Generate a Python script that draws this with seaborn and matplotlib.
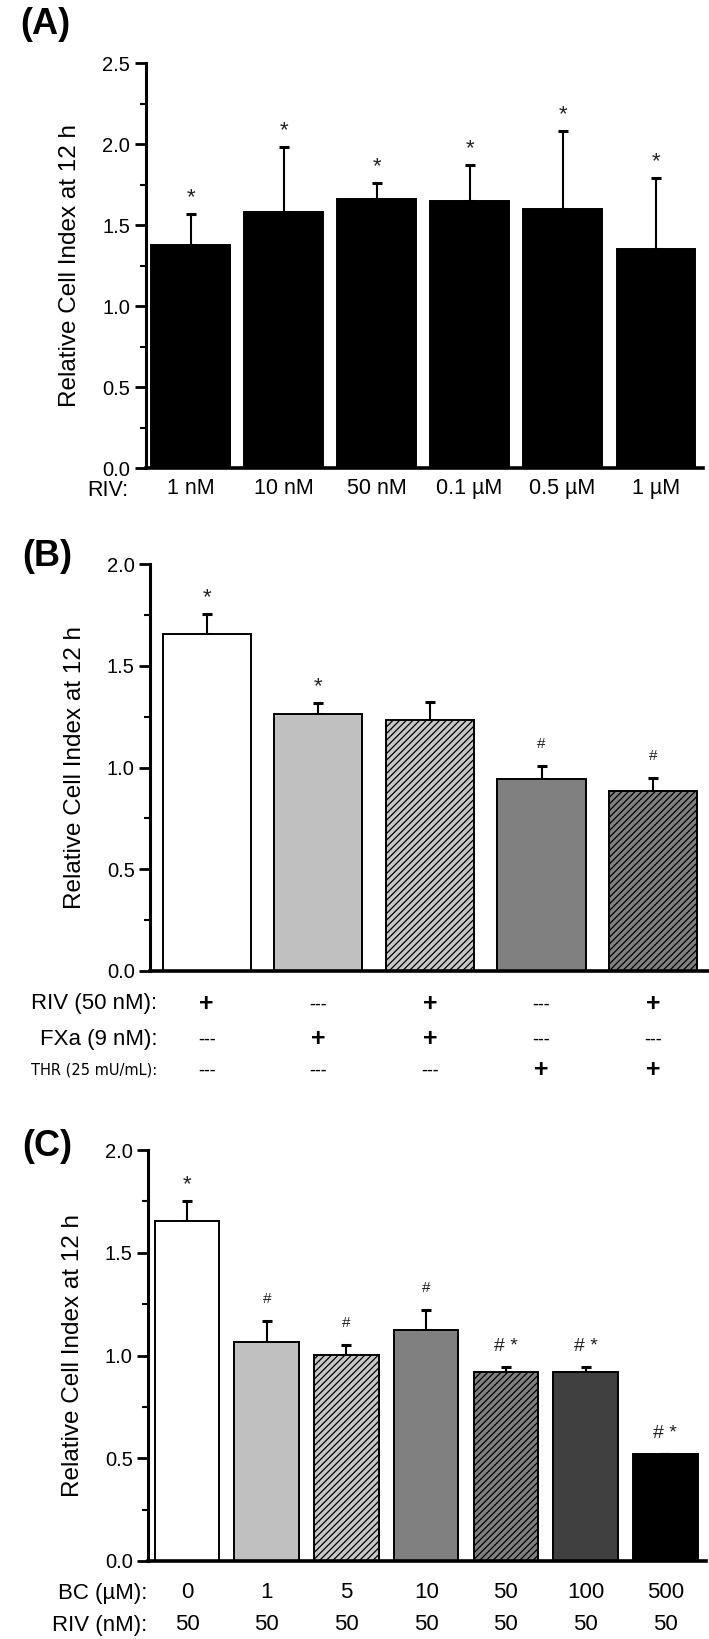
import numpy as np
import pandas as pd
import matplotlib
matplotlib.use("Agg")
import matplotlib.pyplot as plt
import seaborn as sns
from matplotlib.ticker import MultipleLocator, FormatStrFormatter
from matplotlib.transforms import blended_transform_factory

# ---------------- data ----------------
a_labels = ["1 nM", "10 nM", "50 nM", "0.1 µM", "0.5 µM", "1 µM"]
a_means = [1.38, 1.58, 1.66, 1.65, 1.60, 1.35]
a_errs = [0.19, 0.40, 0.10, 0.22, 0.48, 0.44]
a_marks = ["*", "*", "*", "*", "*", "*"]

b_groups = ["RIV", "FXa", "RIV+FXa", "THR", "RIV+THR"]
b_means = [1.655, 1.265, 1.232, 0.942, 0.886]
b_errs = [0.10, 0.05, 0.09, 0.067, 0.06]
b_marks = ["*", "*", "", "#", "#"]
b_riv = ["+", "---", "+", "---", "+"]
b_fxa = ["---", "+", "+", "---", "---"]
b_thr = ["---", "---", "---", "+", "+"]
b_row_labels = ["RIV (50 nM):", "FXa (9 nM):", "THR (25 mU/mL):"]

c_bc = ["0", "1", "5", "10", "50", "100", "500"]
c_riv = ["50", "50", "50", "50", "50", "50", "50"]
c_means = [1.653, 1.068, 1.001, 1.124, 0.918, 0.918, 0.520]
c_errs = [0.10, 0.10, 0.05, 0.095, 0.026, 0.026, 0.0]
c_marks = ["*", "#", "#", "#", "# *", "# *", "# *"]
c_row_labels = ["BC (µM):", "RIV (nM):"]

# ---------------- style ----------------
sns.set_style("ticks")
plt.rcParams["font.family"] = ["Liberation Sans", "DejaVu Sans"]
plt.rcParams["hatch.linewidth"] = 0.9
for k in ["axes.edgecolor", "text.color", "xtick.color", "ytick.color", "axes.labelcolor"]:
    plt.rcParams[k] = "black"

W, H = 709, 1639
fig = plt.figure(figsize=(W / 100, H / 100), dpi=100)


def fy(px):
    return 1 - px / H


def make_axes(left, right, top, bottom):
    return fig.add_axes([left / W, 1 - bottom / H, (right - left) / W, (bottom - top) / H])


def style_axis(ax, ymax):
    ax.set_ylim(0, ymax)
    ax.yaxis.set_major_locator(MultipleLocator(0.5))
    ax.yaxis.set_minor_locator(MultipleLocator(0.25))
    ax.yaxis.set_major_formatter(FormatStrFormatter("%.1f"))
    for s in ["top", "right"]:
        ax.spines[s].set_visible(False)
    ax.spines["left"].set_linewidth(2.2)
    ax.spines["bottom"].set_linewidth(2.6)
    ax.tick_params(axis="y", which="major", direction="out", length=8, width=2,
                   labelsize=14.5, pad=3)
    ax.tick_params(axis="y", which="minor", direction="out", length=4, width=1.5)
    ax.tick_params(axis="x", length=0)
    ax.set_ylabel("Relative Cell Index at 12 h", fontsize=17.5)
    ax.yaxis.set_label_coords(-0.115, 0.5)
    ax.set_xlabel("")


def draw_bars(ax, labels, means, errs, colors, hatches, width):
    df = pd.DataFrame({"grp": labels, "val": means})
    sns.barplot(data=df, x="grp", y="val", hue="grp", palette=colors, legend=False,
                errorbar=None, width=width, ax=ax, edgecolor="black", linewidth=1.4,
                saturation=1, zorder=2)
    for p, h in zip(ax.patches, hatches):
        if h:
            p.set_hatch(h)
    x = np.arange(len(labels))
    e = np.array(errs)
    ax.errorbar(x, means, yerr=[np.zeros_like(e), e], fmt="none", ecolor="black",
                elinewidth=1.5, capsize=3.5, capthick=2.2, zorder=1)


def annotate(ax, means, errs, marks):
    for i, (m, e, t) in enumerate(zip(means, errs, marks)):
        if not t:
            continue
        if t == "*":
            fs, off = 16, 11
        elif t == "#":
            fs, off = 11, 18
        else:
            fs, off = 14, 16
        ax.annotate(t, xy=(i, m + e), xytext=(0, off), textcoords="offset pixels",
                    ha="center", va="baseline", fontsize=fs, color="#222222")


# ---------------- panel A ----------------
axA = make_axes(145.5, 703, 63.3, 468)
draw_bars(axA, a_labels, a_means, a_errs, ["black"] * 6, [None] * 6, 0.84)
style_axis(axA, 2.5)
axA.set_xlim(-0.484, 5.51)
axA.set_xticks(range(len(a_labels)))
axA.set_xticklabels(a_labels, fontsize=15.5)
axA.tick_params(axis="x", pad=7)
annotate(axA, a_means, a_errs, a_marks)
fig.text(108 / W, fy(491), "RIV:", ha="center", va="center", fontsize=15.5)
fig.text(20 / W, fy(24), "(A)", ha="left", va="center", fontsize=26, fontweight="bold")

# ---------------- panel B ----------------
axB = make_axes(150, 709, 564, 971)
b_colors = ["white", "#c0c0c0", "#c8c8c8", "#808080", "#808080"]
b_hatch = [None, None, "/////", None, "/////"]
draw_bars(axB, b_groups, b_means, b_errs, b_colors, b_hatch, 0.79)
style_axis(axB, 2.0)
axB.set_xlim(-0.507, 4.5)
axB.set_xticks([])
annotate(axB, b_means, b_errs, b_marks)
trB = blended_transform_factory(axB.transData, fig.transFigure)
for row, (lab, vals, ypx) in enumerate(zip(b_row_labels, [b_riv, b_fxa, b_thr], [1004, 1039, 1070])):
    if row < 2:
        fig.text(157 / W, fy(ypx), lab, ha="right", va="center", fontsize=16)
    else:
        fig.text(157 / W, fy(ypx), lab, ha="right", va="center", fontsize=10.5,
                 family=["DejaVu Sans"])
    for i, v in enumerate(vals):
        if v == "+":
            axB.text(i, fy(ypx), v, transform=trB, ha="center", va="center",
                     fontsize=18, fontweight="bold")
        else:
            axB.text(i, fy(ypx), v, transform=trB, ha="center", va="center",
                     fontsize=12, family=["DejaVu Sans"])
fig.text(22 / W, fy(557), "(B)", ha="left", va="center", fontsize=26, fontweight="bold")

# ---------------- panel C ----------------
axC = make_axes(148, 706, 1150, 1561)
c_colors = ["white", "#c0c0c0", "#c8c8c8", "#808080", "#808080", "#404040", "black"]
c_hatch = [None, None, "/////", None, "/////", None, None]
draw_bars(axC, c_bc, c_means, c_errs, c_colors, c_hatch, 0.81)
style_axis(axC, 2.0)
axC.set_xlim(-0.49, 6.51)
axC.set_xticks([])
annotate(axC, c_means, c_errs, c_marks)
trC = blended_transform_factory(axC.transData, fig.transFigure)
for lab, vals, ypx in zip(c_row_labels, [c_bc, c_riv], [1593, 1625]):
    fig.text(147 / W, fy(ypx), lab, ha="right", va="center", fontsize=16)
    for i, v in enumerate(vals):
        axC.text(i, fy(ypx), v, transform=trC, ha="center", va="center", fontsize=16)
fig.text(22 / W, fy(1146), "(C)", ha="left", va="center", fontsize=26, fontweight="bold")

fig.savefig("out.png", dpi=100)
